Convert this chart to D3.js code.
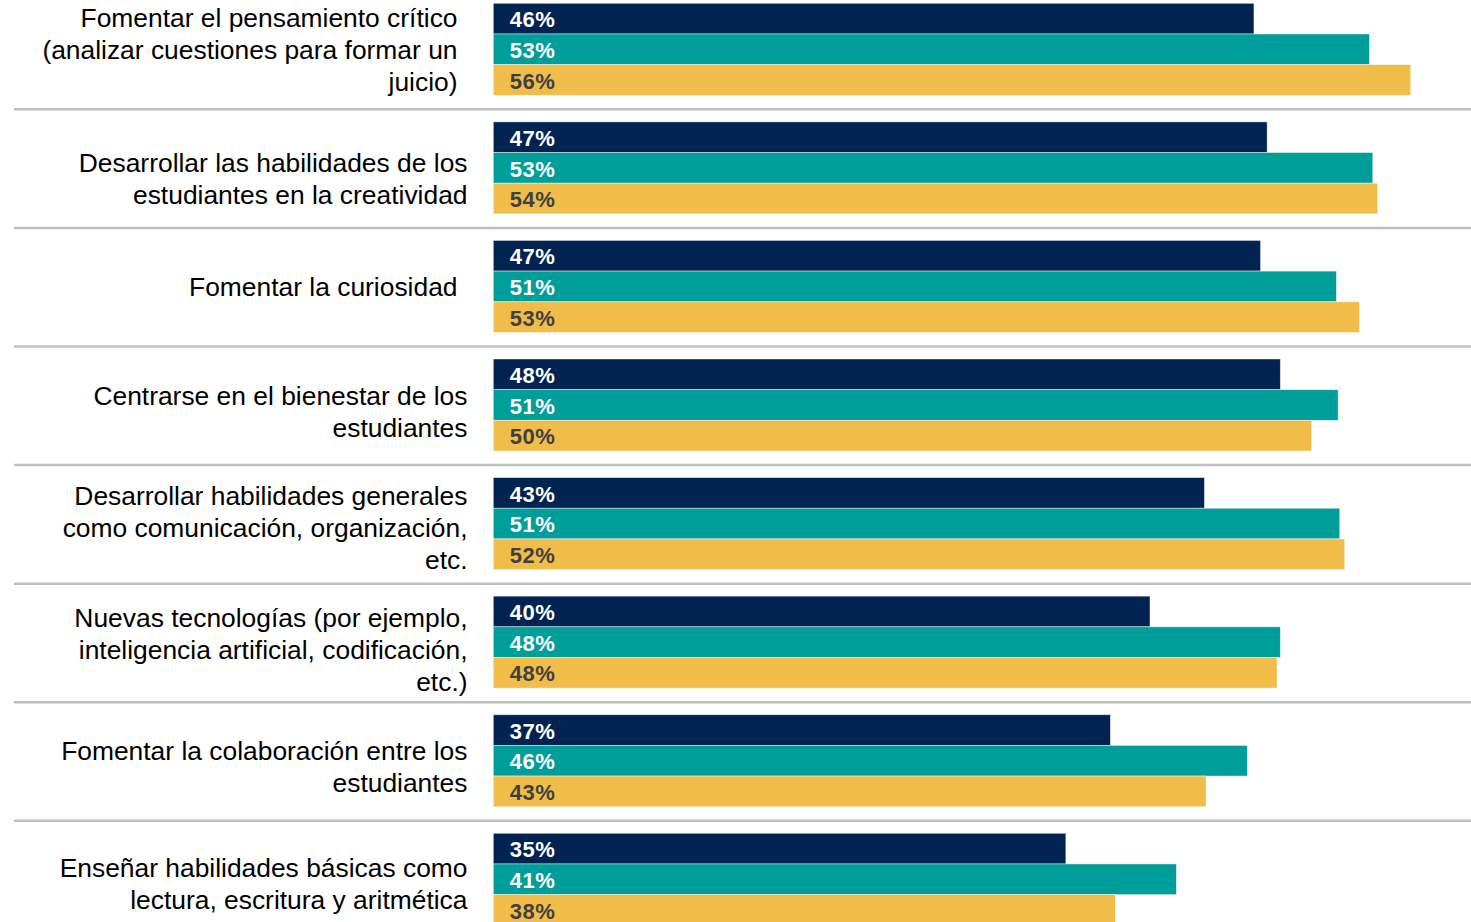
<!DOCTYPE html>
<html>
<head>
<meta charset="utf-8">
<script src="https://cdn.jsdelivr.net/npm/d3@7"></script>
<style>
  html, body { margin: 0; padding: 0; background: #fff; overflow: hidden; }
  svg { display: block; }
</style>
</head>
<body>
<div id="chart"></div>
<script>
// ---- Data ----
const categories = [
  "Fomentar el pensamiento crítico (analizar cuestiones para formar un juicio)",
  "Desarrollar las habilidades de los estudiantes en la creatividad",
  "Fomentar la curiosidad",
  "Centrarse en el bienestar de los estudiantes",
  "Desarrollar habilidades generales como comunicación, organización, etc.",
  "Nuevas tecnologías (por ejemplo, inteligencia artificial, codificación, etc.)",
  "Fomentar la colaboración entre los estudiantes",
  "Enseñar habilidades básicas como lectura, escritura y aritmética"
];
const categoryLines = [
  ["Fomentar el pensamiento crítico", "(analizar cuestiones para formar un", "juicio)"],
  ["Desarrollar las habilidades de los", "estudiantes en la creatividad"],
  ["Fomentar la curiosidad"],
  ["Centrarse en el bienestar de los", "estudiantes"],
  ["Desarrollar habilidades generales", "como comunicación, organización,", "etc."],
  ["Nuevas tecnologías (por ejemplo,", "inteligencia artificial, codificación,", "etc.)"],
  ["Fomentar la colaboración entre los", "estudiantes"],
  ["Enseñar habilidades básicas como", "lectura, escritura y aritmética"]
];
const seriesNames = ["Serie 1", "Serie 2", "Serie 3"];
const series1 = [46.1, 46.9, 46.5, 47.7, 43.1, 39.8, 37.4, 34.7];
const series2 = [53.1, 53.3, 51.1, 51.2, 51.3, 47.7, 45.7, 41.4];
const series3 = [55.6, 53.6, 52.5, 49.6, 51.6, 47.5, 43.2, 37.7];
const xDomain = [0, 60];

// ---- Styles / layout ----
const W = 1471, H = 922;
const colors = ["#002352", "#009E9A", "#F0BD4A"];
const labelColors = ["#ffffff", "#ffffff", "#404040"];
const labelRightInset = [10, 0, 10, 0, 0, 0, 0, 0];
const labelDy = [2, 12, 1.5, 8, 5, 9, 7, 6];

const svg = d3.select("#chart").append("svg")
  .attr("width", W).attr("height", H);

const x = d3.scaleLinear().domain(xDomain).range([493.3, 1483.3]);
const step = 118.57;
const y0 = -9.7;
const y = d3.scaleBand().domain(categories).range([y0, y0 + step * categories.length]).padding(0);
const sub = d3.scaleBand().domain(seriesNames).range([13, 13 + 92]).padding(0);

const allSeries = [series1, series2, series3];

// separators
svg.append("g").selectAll("line")
  .data(categories.slice(1))
  .join("line")
  .attr("x1", 14).attr("x2", W)
  .attr("y1", d => y(d) + 0.5).attr("y2", d => y(d) + 0.5)
  .attr("stroke", "#C0C0C0").attr("stroke-width", 2.5);

// groups
const groups = svg.append("g").selectAll("g.grp")
  .data(categories)
  .join("g").attr("class", "grp")
  .attr("transform", d => `translate(0,${y(d)})`);

groups.each(function(cat, ci) {
  const g = d3.select(this);
  seriesNames.forEach((s, si) => {
    const v = allSeries[si][ci];
    g.append("rect")
      .attr("x", x(0))
      .attr("y", sub(s))
      .attr("width", x(v) - x(0))
      .attr("height", sub.bandwidth())
      .attr("fill", colors[si])
      .attr("stroke", "rgba(255,255,255,0.55)")
      .attr("stroke-width", 0.8);
    g.append("text")
      .attr("x", x(0) + 16.5)
      .attr("y", sub(s) + 24)
      .attr("fill", labelColors[si])
      .style("font-family", "'Liberation Sans', Arial, sans-serif")
      .style("font-weight", "bold")
      .style("font-size", "22px")
      .style("letter-spacing", "0.5px")
      .text(Math.round(v) + "%");
  });

  // category label
  const lines = categoryLines[ci];
  const center = 13 + 46;
  const n = lines.length;
  const lh = 32;
  const t = g.append("text")
    .attr("text-anchor", "end")
    .attr("fill", "#000")
    .style("font-family", "'Liberation Sans', Arial, sans-serif")
    .style("font-size", "26.4px");
  lines.forEach((ln, li) => {
    t.append("tspan")
      .attr("x", 467.5 - labelRightInset[ci])
      .attr("y", center + (li - (n - 1) / 2) * lh + labelDy[ci] + 8)
      .text(ln);
  });
});
</script>
</body>
</html>
